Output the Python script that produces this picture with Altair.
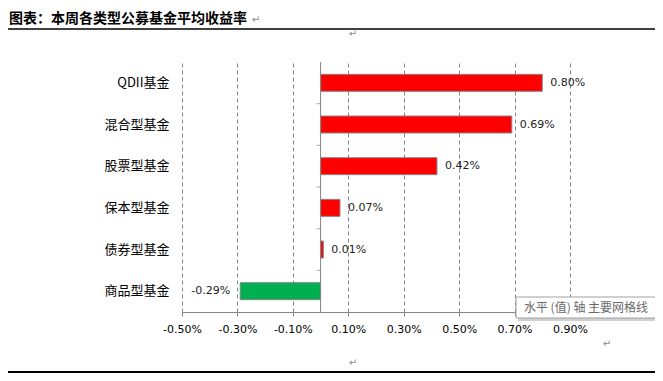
import altair as alt
import pandas as pd

# ---- data ----
categories = ["QDII基金", "混合型基金", "股票型基金", "保本型基金", "债券型基金", "商品型基金"]
returns = [0.80, 0.69, 0.42, 0.07, 0.01, -0.29]
tick_values = [-0.5, -0.3, -0.1, 0.1, 0.3, 0.5, 0.7, 0.9]
title_text = "图表：本周各类型公募基金平均收益率"
tooltip_text = "水平 (值) 轴 主要网格线"

pos_color = "#FF0000"
neg_color = "#00B050"
grey = "#868686"

df = pd.DataFrame({"cat": categories, "ret": returns})
df["label"] = [f"{v:.2f}%" for v in returns]
df["sign"] = ["pos" if v >= 0 else "neg" for v in returns]

PW, PH = 388, 250
PAD = {"left": 174, "top": 54, "right": 85, "bottom": 61}

xscale = alt.Scale(domain=[-0.5, 0.9], nice=False, zero=False)
yscale = alt.Scale(domain=categories, paddingInner=0, paddingOuter=0)

base = alt.Chart(df)

bars = base.mark_bar(size=17, stroke=grey, strokeWidth=1).encode(
    x=alt.X("ret:Q", scale=xscale,
            axis=alt.Axis(values=tick_values,
                          labelExpr="(datum.value < 0 ? '-' : '') + format(abs(datum.value), '.2f') + '%'",
                          labelOverlap=False, labelBound=False, labelFlush=False,
                          grid=True, gridDash=[4, 3], gridColor=grey,
                          domainColor=grey, tickColor=grey, tickSize=4,
                          labelFontSize=11, labelColor="#000000",
                          labelFont="DejaVu Sans", labelPadding=7,
                          title=None)),
    x2=alt.datum(0),
    y=alt.Y("cat:N", sort=categories, scale=yscale,
            axis=alt.Axis(title=None, domain=False, ticks=False,
                          labelPadding=13, labelFontSize=13,
                          labelFont="Noto Sans CJK SC", labelColor="#000000")),
    color=alt.Color("sign:N", scale=alt.Scale(domain=["pos", "neg"],
                                              range=[pos_color, neg_color]),
                    legend=None),
)

lab_pos = base.transform_filter("datum.ret >= 0").mark_text(
    align="left", baseline="middle", dx=8, fontSize=11,
    font="DejaVu Sans", color="#222222").encode(
    x=alt.X("ret:Q", scale=xscale), y=alt.Y("cat:N", sort=categories, scale=yscale),
    text="label:N")

lab_neg = base.transform_filter("datum.ret < 0").mark_text(
    align="right", baseline="middle", dx=-10, fontSize=11,
    font="DejaVu Sans", color="#222222").encode(
    x=alt.X("ret:Q", scale=xscale), y=alt.Y("cat:N", sort=categories, scale=yscale),
    text="label:N")

zero_line = alt.Chart(pd.DataFrame({"z": [0]})).mark_rule(color=grey, strokeWidth=1).encode(
    x=alt.X("z:Q", scale=xscale), y=alt.value(0), y2=alt.value(PH))

bounds = alt.Chart(pd.DataFrame({"cat": categories[1:]})).mark_tick(
    orient="horizontal", size=4, thickness=1, xOffset=-2, color=grey).encode(
    x=alt.datum(0), y=alt.Y("cat:N", sort=categories, scale=yscale, bandPosition=0))

# ---- page decorations (document title, rules, paragraph marks, tooltip) ----
title = alt.Chart(pd.DataFrame({"t": [title_text]})).mark_text(
    align="left", baseline="middle", fontSize=14, fontWeight="bold",
    font="Noto Sans CJK SC", color="#000000").encode(
    x=alt.value(-173), y=alt.value(-43), text="t:N")

top_rule = alt.Chart(pd.DataFrame({"a": [0]})).mark_rule(color="#000000", strokeWidth=1.5).encode(
    x=alt.value(-PAD["left"]), x2=alt.value(PW + PAD["right"]), y=alt.value(-33))
bot_rule = alt.Chart(pd.DataFrame({"a": [0]})).mark_rule(color="#000000", strokeWidth=2).encode(
    x=alt.value(-PAD["left"]), x2=alt.value(PW + PAD["right"]), y=alt.value(310))

marks_df = pd.DataFrame({"t": ["↵", "↵", "↵", "↵"],
                         "px": [74, 171, 425, 171], "py": [-42, -28, 282, 301]})
para = alt.Chart(marks_df).mark_text(fontSize=10, color="#8a8a8a", font="DejaVu Sans").encode(
    x=alt.X("px:Q", scale=None), y=alt.Y("py:Q", scale=None), text="t:N")

tip_shadow = alt.Chart(pd.DataFrame({"a": [0]})).mark_rect(fill="#d0d0d0").encode(
    x=alt.value(336), x2=alt.value(478), y=alt.value(237), y2=alt.value(259))
tip_box = alt.Chart(pd.DataFrame({"a": [0]})).mark_rect(fill="#ffffff", stroke="#a0a0a0").encode(
    x=alt.value(334), x2=alt.value(475), y=alt.value(235), y2=alt.value(256))
tip_text = alt.Chart(pd.DataFrame({"t": [tooltip_text]})).mark_text(
    fontSize=12, font="Noto Sans CJK SC", color="#6a6a6a", baseline="middle").encode(
    x=alt.value(404), y=alt.value(246), text="t:N")

chart = alt.layer(
    bars, zero_line, bounds, lab_pos, lab_neg,
    title, top_rule, bot_rule, para, tip_shadow, tip_box, tip_text,
).properties(
    width=PW, height=PH, padding=PAD,
    autosize=alt.AutoSizeParams(type="none"),
    background="#ffffff",
).configure_view(stroke=None)

chart.save("out.html", embed_options={"renderer": "svg", "actions": False})
